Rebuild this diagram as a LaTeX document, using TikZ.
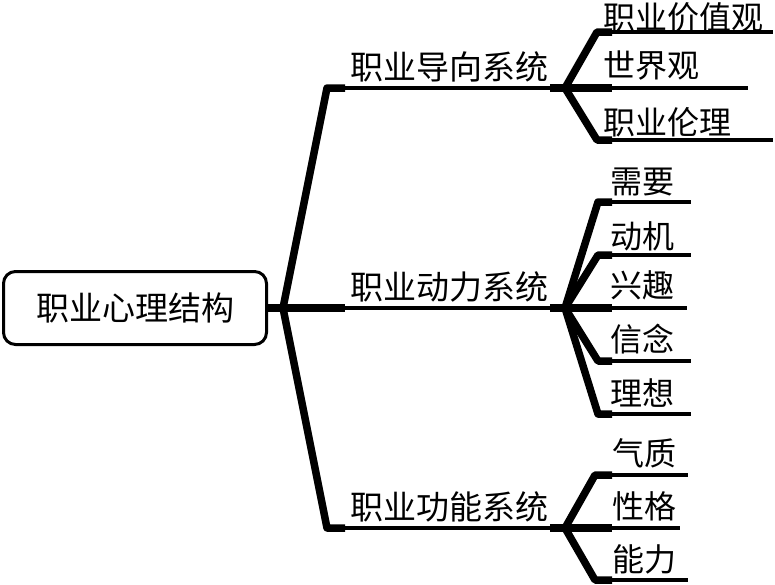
\documentclass[tikz,border=0pt]{standalone}
\usepackage{fontspec}
\newfontfamily\cjk{Noto Sans CJK SC}
\usetikzlibrary{positioning}
\tikzset{
  root/.style={rectangle, rounded corners=12pt, draw, line width=3pt, minimum width=263pt, minimum height=73pt, inner sep=0pt, font=\cjk\fontsize{33}{40}\selectfont},
  topic/.style={inner sep=0pt, anchor=west, font=\cjk\fontsize{33}{40}\selectfont},
  item/.style={inner sep=0pt, anchor=west, font=\cjk\fontsize{32}{40}\selectfont},
  stem/.style={line width=7.5pt, line join=round},
  twig/.style={line width=4.5pt}
}
\begin{document}
\begin{tikzpicture}[x=1pt, y=-1pt]
  \useasboundingbox (0,0) rectangle (775,584);
  \node [root] (root) at (135,308) {职业心理结构};
  \coordinate (j0) at (283,308);
  \draw [stem] (root.east) -- (j0);
  % first level
  \foreach \name/\t/\y in {guide/职业导向系统/88, drive/职业动力系统/308, func/职业功能系统/528} {
    \coordinate (\name-e) at (327,\y);
    \coordinate (\name-c) at (550,\y);
    \coordinate (\name-j) at (565,\y);
    \node [topic] (\name) at (350,\y-21) {\t};
    \draw [stem] (j0) -- (\name-e) -- ++(18,0) coordinate (\name-s);
    \draw [twig] (\name-s) -- (\name-c);
    \draw [stem] (\name-c) -- (\name-j);
  }
  % second level
  \foreach \t/\y/\ty/\ex [count=\i] in {职业价值观/32/17/773, 世界观/88/66/748, 职业伦理/140/122/773} {
    \coordinate (guide-e\i) at (597,\y);
    \coordinate (guide-t\i) at (\ex,\y);
    \node [item] (guide-\i) at (603,\ty) {\t};
    \draw [stem] (guide-j) -- (guide-e\i) -- ++(15,0) coordinate (guide-s\i);
    \draw [twig] (guide-s\i) -- (guide-t\i);
  }
  \foreach \t/\y/\ty/\ex [count=\i] in {需要/202/182/691, 动机/255/236/691, 兴趣/308/285/687, 信念/361/339/691, 理想/414/393/691} {
    \coordinate (drive-e\i) at (598,\y);
    \coordinate (drive-t\i) at (\ex,\y);
    \node [item] (drive-\i) at (610,\ty) {\t};
    \draw [stem] (drive-j) -- (drive-e\i) -- ++(14,0) coordinate (drive-s\i);
    \draw [twig] (drive-s\i) -- (drive-t\i);
  }
  \foreach \t/\y/\ty/\ex [count=\i] in {气质/475/453/688, 性格/528/506/680, 能力/580/559/688} {
    \coordinate (func-e\i) at (595,\y);
    \coordinate (func-t\i) at (\ex,\y);
    \node [item] (func-\i) at (612,\ty) {\t};
    \draw [stem] (func-j) -- (func-e\i) -- ++(17,0) coordinate (func-s\i);
    \draw [twig] (func-s\i) -- (func-t\i);
  }
\end{tikzpicture}
\end{document}
